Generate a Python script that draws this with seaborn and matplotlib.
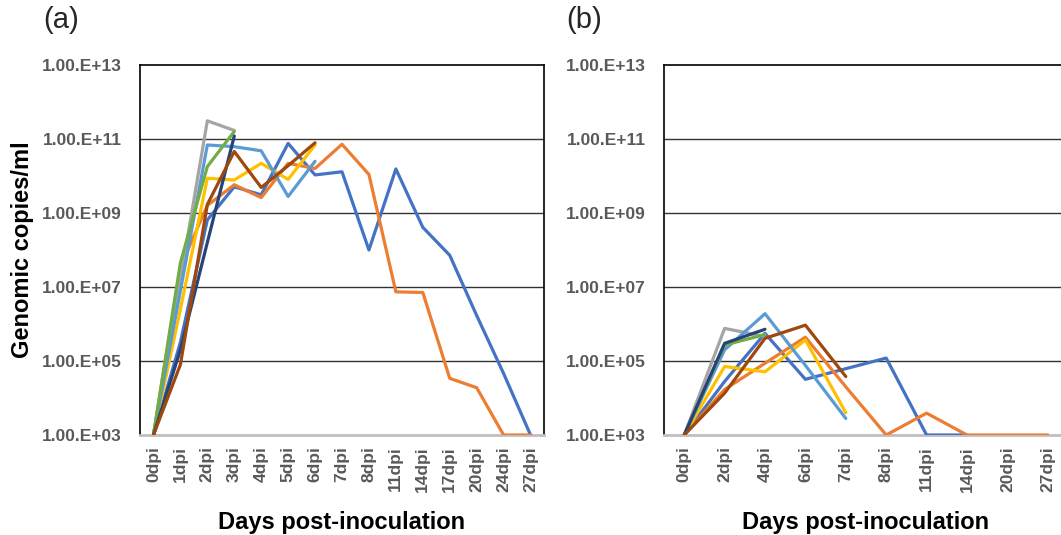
import numpy as np
import pandas as pd
import matplotlib
matplotlib.use("Agg")
import matplotlib.pyplot as plt
import seaborn as sns

# ---------------- data ----------------
days_a = ['0dpi', '1dpi', '2dpi', '3dpi', '4dpi', '5dpi', '6dpi', '7dpi', '8dpi',
          '11dpi', '14dpi', '17dpi', '20dpi', '24dpi', '27dpi']
days_b = ['0dpi', '2dpi', '4dpi', '6dpi', '7dpi', '8dpi', '11dpi', '14dpi', '20dpi', '27dpi']

series_names = ['S1', 'S2', 'S3', 'S4', 'S5', 'S6', 'S7', 'S8']
series_colors = ['#4472C4', '#ED7D31', '#A5A5A5', '#FFC000', '#5B9BD5', '#70AD47', '#264478', '#9E480E']

a_s1 = [1e3, 3.2e5, 6.5e8, 5.1e9, 3.1e9, 7.6e10, 1.07e10, 1.3e10, 1.0e8, 1.55e10, 4.1e8, 7.2e7, 1.7e6, 4.6e4, 1e3]
a_s2 = [1e3, 3.5e7, 1.6e9, 5.8e9, 2.6e9, 2.2e10, 1.6e10, 7.2e10, 1.1e10, 7.4e6, 7.1e6, 3.4e4, 1.9e4, 1e3, 1e3]
a_s3 = [1e3, 1.6e7, 3.1e11, 1.7e11]
a_s4 = [1e3, 2.5e6, 8.7e9, 7.8e9, 2.2e10, 8.1e9, 6.9e10]
a_s5 = [1e3, 7.9e6, 6.9e10, 6.2e10, 4.8e10, 2.8e9, 2.5e10]
a_s6 = [1e3, 4.5e7, 1.8e10, 1.6e11]
a_s7 = [1e3, 2.0e5, 1.6e8, 1.2e11]
a_s8 = [1e3, 8.0e4, 1.7e9, 4.6e10, 4.9e9, 1.9e10, 7.9e10]

b_s1 = [1e3, 2.8e4, 5.6e5, 3.2e4, 6.2e4, 1.2e5, 1e3, 1e3]
b_s2 = [1e3, 1.7e4, 8.7e4, 4.4e5, 2.0e4, 1e3, 3.9e3, 1e3, 1e3, 1e3]
b_s3 = [1e3, 7.6e5, 4.6e5]
b_s4 = [1e3, 7.1e4, 5.1e4, 3.7e5, 4.0e3]
b_s5 = [1e3, 2.0e5, 1.9e6, 7.6e4, 2.8e3]
b_s6 = [1e3, 2.7e5, 5.2e5]
b_s7 = [1e3, 3.0e5, 7.2e5]
b_s8 = [1e3, 1.35e4, 4.1e5, 9.3e5, 3.8e4]

ytick_values = [1e3, 1e5, 1e7, 1e9, 1e11, 1e13]
ytick_labels = ['1.00.E+03', '1.00.E+05', '1.00.E+07', '1.00.E+09', '1.00.E+11', '1.00.E+13']

panel_labels = ['(a)', '(b)']
x_title = 'Days post-inoculation'
y_title = 'Genomic copies/ml'


def long_frame(series_list):
    rows = []
    for name, vals in zip(series_names, series_list):
        for i, v in enumerate(vals):
            rows.append({'pos': i, 'value': v, 'series': name})
    return pd.DataFrame(rows)


df_a = long_frame([a_s1, a_s2, a_s3, a_s4, a_s5, a_s6, a_s7, a_s8])
df_b = long_frame([b_s1, b_s2, b_s3, b_s4, b_s5, b_s6, b_s7, b_s8])

# ---------------- style ----------------
sns.set_style('white')
plt.rcParams['font.family'] = ['Liberation Sans', 'DejaVu Sans']

fig = plt.figure(figsize=(10.61, 5.35), dpi=100)
W, H = 1061.0, 535.0
ax_a = fig.add_axes([140 / W, 1 - 435 / H, 404 / W, 370 / H])
ax_b = fig.add_axes([664 / W, 1 - 435 / H, 404 / W, 370 / H])

palette = dict(zip(series_names, series_colors))

for ax, df, days, lab in [(ax_a, df_a, days_a, panel_labels[0]), (ax_b, df_b, days_b, panel_labels[1])]:
    sns.lineplot(data=df, x='pos', y='value', hue='series', palette=palette,
                 estimator=None, sort=False, linewidth=2.3, legend=False, ax=ax,
                 zorder=3)
    ax.set_yscale('log')
    ax.set_ylim(1e3, 1e13)
    ax.set_xlim(-0.5, len(days) - 0.5)
    ax.set_yticks(ytick_values)
    ax.set_yticklabels(ytick_labels)
    ax.minorticks_off()
    ax.set_xticks(range(len(days)))
    ax.set_xticklabels(days, rotation=90)
    ax.tick_params(axis='y', length=0, pad=13, labelsize=12.5, labelcolor='#595959')
    ax.tick_params(axis='x', length=0, pad=8, labelsize=12.5, labelcolor='#595959')
    for t in ax.get_yticklabels() + ax.get_xticklabels():
        t.set_fontweight('bold')
    for yv in ytick_values[1:-1]:
        ax.axhline(yv, color='#333333', linewidth=1.0, zorder=1)
    for side in ['top', 'left', 'right']:
        ax.spines[side].set_color('black')
        ax.spines[side].set_linewidth(1.2)
    ax.spines['bottom'].set_color('#BFBFBF')
    ax.spines['bottom'].set_linewidth(2.0)
    ax.set_xlabel(x_title, fontsize=17, fontweight='bold', color='black', labelpad=14)
    ax.set_ylabel('')

ax_a.set_ylabel(y_title, fontsize=17, fontweight='bold', color='black', labelpad=6)

fig.text(43 / W, 1 - 20 / H, panel_labels[0], fontsize=21, ha='left', va='center')
fig.text(566 / W, 1 - 20 / H, panel_labels[1], fontsize=21, ha='left', va='center')

fig.savefig('out.png', dpi=100)
